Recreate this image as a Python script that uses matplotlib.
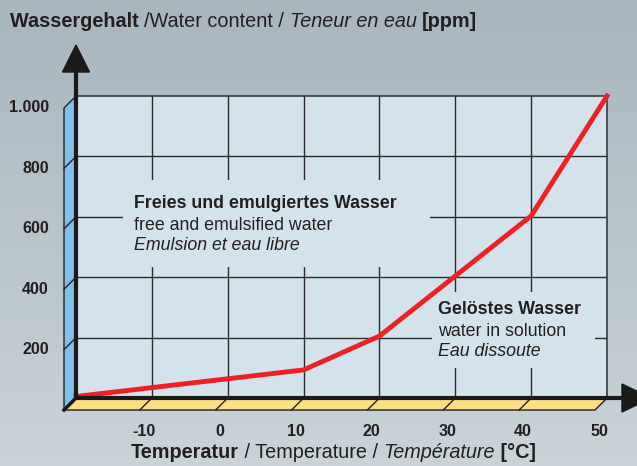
import numpy as np
import matplotlib
matplotlib.use("Agg")
import matplotlib.pyplot as plt
from matplotlib.patches import Polygon, Rectangle
from matplotlib.colors import LinearSegmentedColormap
from matplotlib.transforms import ScaledTranslation

plt.rcParams['font.family'] = ['Liberation Sans', 'DejaVu Sans']

# data
temperature = [-20, 10, 20, 40, 50]          # °C
water_ppm = [5, 93, 205, 603, 1000]          # ppm

x_ticks = [-10, 0, 10, 20, 30, 40, 50]
x_labels = ['-10', '0', '10', '20', '30', '40', '50']
y_ticks = [200, 400, 600, 800, 1000]
y_labels = ['200', '400', '600', '800', '1.000']

W, H = 637, 466
fig = plt.figure(figsize=(W / 100, H / 100), dpi=100)

# background gradient (whole figure, pixel coords)
bg = fig.add_axes([0, 0, 1, 1])
bg.set_xlim(0, W)
bg.set_ylim(H, 0)
bg.axis('off')
cmap = LinearSegmentedColormap.from_list('bg', ['#a9b6be', '#c9d3d8'])
bg.imshow(np.linspace(0, 1, 256)[:, None], cmap=cmap, extent=(0, W, H, 0), aspect='auto')

# plot area: x 76..607 px, y 96..398 px
ax = fig.add_axes([76 / W, (H - 398) / H, 531 / W, 302 / H])
ax.set_xlim(-20, 50)
ax.set_ylim(0, 1000)
ax.set_facecolor('#d4e3eb')
ax.set_xticks([])
ax.set_yticks([])
for s in ['left', 'bottom']:
    ax.spines[s].set_visible(False)
for s in ['top', 'right']:
    ax.spines[s].set_color('#3a3a3a')
    ax.spines[s].set_linewidth(1.2)

px_x = 70 / 531     # data units per pixel
px_y = 1000 / 302
d = 12              # depth of the pseudo-3D wall / floor in pixels


def to_dx(px):
    return -20 + (px - 76) * px_x


def to_dy(py):
    return (398 - py) * px_y


grid_c = '#2b2b2b'
for v in x_ticks[:-1]:
    ax.plot([v, v], [0, 1000], color=grid_c, lw=1, zorder=1)
for v in y_ticks[:-1]:
    ax.plot([-20, 50], [v, v], color=grid_c, lw=1, zorder=1)

# left wall (blue)
wall = Polygon([(-20, 1000), (-20 - d * px_x, 1000 - d * px_y), (-20 - d * px_x, -d * px_y), (-20, 0)],
               closed=True, facecolor='#80c0ea', edgecolor='#222222', lw=1, clip_on=False, zorder=2)
ax.add_patch(wall)
for v in y_ticks[:-1]:
    ax.plot([-20, -20 - d * px_x], [v, v - d * px_y], color='#222222', lw=1, clip_on=False, zorder=2)

# floor (yellow)
floor = Polygon([(-20, 0), (50, 0), (50 - d * px_x, -d * px_y), (-20 - d * px_x, -d * px_y)],
                closed=True, facecolor='#fddf84', edgecolor='#222222', lw=1, clip_on=False, zorder=2)
ax.add_patch(floor)
for v in x_ticks[:-1]:
    ax.plot([v, v - d * px_x], [0, -d * px_y], color='#222222', lw=1, clip_on=False, zorder=2)
ax.plot([-20, -20 - d * px_x], [0, -d * px_y], color='#1a1a1a', lw=2.5, clip_on=False, zorder=5)

# axes with arrows
ax.plot([-20, -20], [0, 1000 + 26 * px_y], color='#1a1a1a', lw=3, clip_on=False, zorder=5,
        solid_capstyle='butt')
ax.add_patch(Polygon([(-20, 1000 + 51 * px_y), (-20 - 13.5 * px_x, 1000 + 24 * px_y),
                      (-20 + 13.5 * px_x, 1000 + 24 * px_y)],
                     closed=True, color='#1a1a1a', clip_on=False, zorder=5))
ax.plot([-20, 50 + 17 * px_x], [0, 0], color='#1a1a1a', lw=3, clip_on=False, zorder=5,
        solid_capstyle='butt')
ax.add_patch(Polygon([(50 + 15 * px_x, 14 * px_y), (50 + 15 * px_x, -14 * px_y), (50 + 44 * px_x, 0)],
                     closed=True, color='#1a1a1a', clip_on=False, zorder=5))

# boxes that hide the grid behind the annotations
for x0, y0, x1, y1 in [(123, 180, 430, 267), (432, 292, 595, 368)]:
    ax.add_patch(Rectangle((to_dx(x0), to_dy(y1)), to_dx(x1) - to_dx(x0), to_dy(y0) - to_dy(y1),
                           facecolor='#d4e3eb', edgecolor='none', zorder=1.5))

# the curve
ax.plot(temperature, water_ppm, color='#ee2027', lw=3.5, zorder=4, clip_on=False,
        solid_joinstyle='miter')

txt_c = '#231f20'
fs = 12.8
ax.text(to_dx(134), to_dy(203), 'Freies und emulgiertes Wasser', fontsize=fs, fontweight='bold',
        color=txt_c, va='center', ha='left', zorder=3)
ax.text(to_dx(134), to_dy(225), 'free and emulsified water', fontsize=fs, color=txt_c,
        va='center', ha='left', zorder=3)
ax.text(to_dx(134), to_dy(246), 'Emulsion et eau libre', fontsize=fs, style='italic', color=txt_c,
        va='center', ha='left', zorder=3)
ax.text(to_dx(438), to_dy(309), 'Gelöstes Wasser', fontsize=fs, fontweight='bold', color=txt_c,
        va='center', ha='left', zorder=3)
ax.text(to_dx(438), to_dy(331), 'water in solution', fontsize=fs, color=txt_c,
        va='center', ha='left', zorder=3)
ax.text(to_dx(438), to_dy(352), 'Eau dissoute', fontsize=fs, style='italic', color=txt_c,
        va='center', ha='left', zorder=3)

# tick labels, shifted to the outer edge of the wall / floor
off_y = ax.transData + ScaledTranslation(-27 / 100, -12 / 100, fig.dpi_scale_trans)
for v, lab in zip(y_ticks, y_labels):
    ax.text(-20, v, lab, transform=off_y, ha='right', va='center', fontsize=11.5,
            fontweight='bold', color=txt_c)
off_x = ax.transData + ScaledTranslation(-8 / 100, -33 / 100, fig.dpi_scale_trans)
for v, lab in zip(x_ticks, x_labels):
    ax.text(v, 0, lab, transform=off_x, ha='center', va='center', fontsize=11.5,
            fontweight='bold', color=txt_c)

# multi-style titles
fig.canvas.draw()
renderer = fig.canvas.get_renderer()


def rich_text(x, y, parts, fontsize, ha='left'):
    """parts: list of (text, weight, style); x, y in pixel coords of bg axes"""
    artists = []
    for s, w, st in parts:
        t = bg.text(0, y, s, fontsize=fontsize, fontweight=w, style=st, color=txt_c,
                    va='baseline', ha='left')
        artists.append(t)
    widths = []
    for t in artists:
        bb = t.get_window_extent(renderer)
        widths.append(bb.width)
    total = sum(widths)
    cur = x - total / 2 if ha == 'center' else x
    for t, wd in zip(artists, widths):
        t.set_x(cur)
        cur += wd


rich_text(10, 27, [('Wassergehalt ', 'bold', 'normal'), ('/Water content / ', 'normal', 'normal'),
                   ('Teneur en eau ', 'normal', 'italic'), ('[ppm]', 'bold', 'normal')], 14.3)
rich_text(131, 458, [('Temperatur', 'bold', 'normal'), (' / Temperature / ', 'normal', 'normal'),
                     ('Température', 'normal', 'italic'), (' [°C]', 'bold', 'normal')], 14.3)

fig.savefig('out.png', dpi=100)
